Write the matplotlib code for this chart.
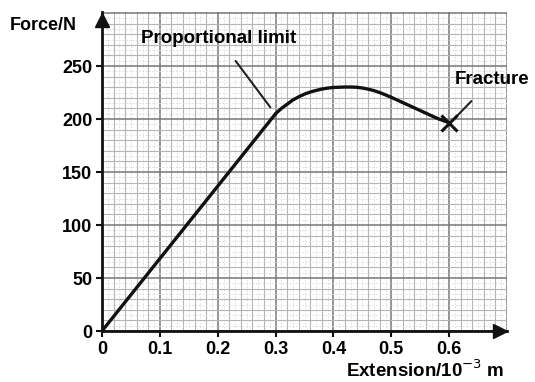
import matplotlib
matplotlib.use("Agg")
import matplotlib.pyplot as plt

# Data
ext_linear = [0.0, 0.30]
force_linear = [0, 205]
ext_curve = [0.30, 0.31, 0.32, 0.33, 0.34, 0.35, 0.36, 0.37, 0.38, 0.39, 0.40,
             0.41, 0.42, 0.43, 0.44, 0.45, 0.46, 0.47, 0.48, 0.49, 0.50,
             0.51, 0.52, 0.53, 0.54, 0.55, 0.56, 0.57, 0.58, 0.59, 0.60]
force_curve = [205, 210, 214, 218, 221, 223.5, 225.5, 227, 228.3, 229.2, 229.8,
               230, 230.2, 230.2, 230, 229.3, 228.2, 226.8, 225, 222.8, 220.5,
               218, 215.5, 213, 210.5, 208, 205.5, 203, 200.5, 198.5, 196.5]
fracture = (0.60, 196.5)
x_ticks = [0, 0.1, 0.2, 0.3, 0.4, 0.5, 0.6]
x_ticklabels = ["0", "0.1", "0.2", "0.3", "0.4", "0.5", "0.6"]
y_ticks = [0, 50, 100, 150, 200, 250]
y_ticklabels = ["0", "50", "100", "150", "200", "250"]

plt.rcParams['font.family'] = ['Liberation Sans', 'DejaVu Sans']

fig = plt.figure(figsize=(5.35, 3.82), dpi=100)
ax = fig.add_axes([102/535, 1-331/382, (507-102)/535, (331-12)/382])
ax.set_xlim(0, 0.7)
ax.set_ylim(0, 301)

# graph paper
for k in range(71):
    v = k * 0.01
    if k % 10 == 0:
        ax.axvline(v, color="#777777", lw=1.1, zorder=0)
    elif k % 2 == 0:
        ax.axvline(v, color="#b5b5b5", lw=0.8, zorder=0)
    else:
        ax.axvline(v, color="#dadada", lw=0.6, ls=(0, (2, 2)), zorder=0)
for v in range(0, 305, 5):
    if v % 50 == 0:
        ax.axhline(v, color="#777777", lw=1.1, zorder=0)
    elif v % 10 == 0:
        ax.axhline(v, color="#b5b5b5", lw=0.8, zorder=0)
    else:
        ax.axhline(v, color="#dadada", lw=0.6, ls=(0, (2, 2)), zorder=0)

ax.plot(ext_linear, force_linear, color="#111111", lw=2.4, solid_capstyle="round", zorder=3)
ax.plot(ext_curve, force_curve, color="#111111", lw=2.4, solid_capstyle="round",
        solid_joinstyle="round", zorder=3)
ax.plot([fracture[0]], [fracture[1]], marker="x", color="#111111", ms=12, mew=2.2, zorder=4)

ax.annotate("Proportional limit", xy=(0.291, 211), xytext=(0.202, 276),
            ha="center", va="center", fontsize=13.5, fontweight="bold",
            arrowprops=dict(arrowstyle="-", color="#222222", lw=1.5,
                            shrinkA=10, shrinkB=0))
ax.annotate("Fracture", xy=(0.612, 202), xytext=(0.674, 237),
            ha="center", va="center", fontsize=13.5, fontweight="bold",
            annotation_clip=False,
            arrowprops=dict(arrowstyle="-", color="#222222", lw=1.5,
                            shrinkA=10, shrinkB=0))

for s in ["top", "right"]:
    ax.spines[s].set_visible(False)
for s in ["left", "bottom"]:
    ax.spines[s].set_linewidth(2.0)
    ax.spines[s].set_color("#111111")
    ax.spines[s].set_zorder(5)

# axis arrows
ax.plot(0.688, 0, marker=">", clip_on=False, color="#111111", ms=10, zorder=6)
ax.plot(0, 293, marker="^", clip_on=False, color="#111111", ms=10, zorder=6)

ax.set_xticks(x_ticks)
ax.set_xticklabels(x_ticklabels, fontsize=13, fontweight="bold")
ax.set_yticks(y_ticks)
ax.set_yticklabels(y_ticklabels, fontsize=13, fontweight="bold")
ax.tick_params(which="major", length=4, width=1.5, color="#111111", pad=3)
ax.tick_params(which="minor", length=0)

fig.text(10/535, 1-25/382, "Force/N", fontsize=13, fontweight="bold", va="center", ha="left")
fig.text(504/535, 1-370/382, "Extension/10$^{-3}$ m", fontsize=13.5, fontweight="bold",
         va="center", ha="right")

fig.savefig("out.png", dpi=100)
